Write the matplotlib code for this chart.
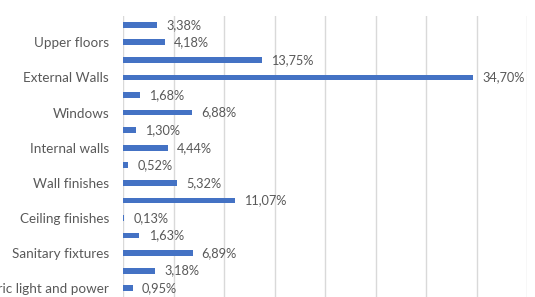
import matplotlib
matplotlib.use("Agg")
import matplotlib.pyplot as plt
import numpy as np

# share of cost per element (%), top to bottom
values = [3.38, 4.18, 13.75, 34.70, 1.68, 6.88, 1.30, 4.44,
          0.52, 5.32, 11.07, 0.13, 1.63, 6.89, 3.18, 0.95]
# only every second category label is shown in the original
shown_labels = ["Upper floors", "External Walls", "Windows", "Internal walls",
                "Wall finishes", "Ceiling finishes", "Sanitary fixtures",
                "Electric light and power"]
x_ticks = [0, 5, 10, 15, 20, 25, 30, 35, 40]

plt.rcParams["font.family"] = ["Lato", "DejaVu Sans"]
TXT = "#595959"
BLUE = "#4472C4"

fig = plt.figure(figsize=(5.35, 2.97), dpi=100)
ax = fig.add_axes([123 / 535, 0.0, (527 - 123) / 535, 1 - 16 / 297])

n = len(values)
y = np.arange(n)
ax.barh(y, values, height=0.33, color=BLUE, zorder=3)
for yi, v in zip(y, values):
    ax.text(v + 0.9, yi, f"{v:.2f}%".replace(".", ","), va="center", ha="left",
            fontsize=9.2, color=TXT)

ax.set_ylim(n - 0.5, -0.5)
ax.set_xlim(0, 40)
ax.set_xticks(x_ticks)
ax.set_xticklabels([])
ax.xaxis.grid(True, color="#d9d9d9", lw=1, zorder=0)
ax.set_yticks(y[1::2])
ax.set_yticklabels(shown_labels, fontsize=9.7, color=TXT)
ax.tick_params(length=0, pad=10)
for s in ax.spines.values():
    s.set_visible(False)

fig.savefig("out.png", dpi=100)
